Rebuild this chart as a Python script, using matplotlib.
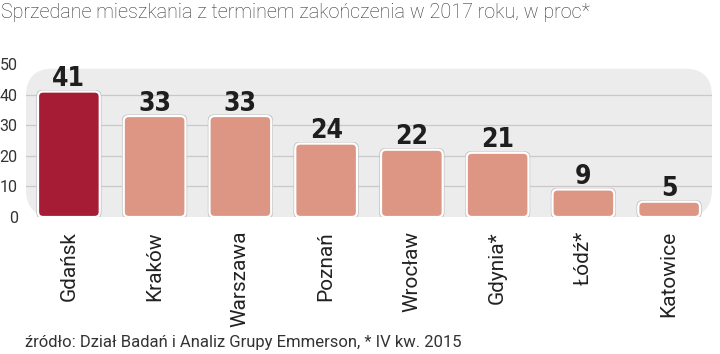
import matplotlib
matplotlib.use("Agg")
import matplotlib.pyplot as plt
from matplotlib.patches import FancyBboxPatch

# Dane
miasta = ["Gdańsk", "Kraków", "Warszawa", "Poznań", "Wrocław", "Gdynia*", "Łódź*", "Katowice"]
wartosci = [41, 33, 33, 24, 22, 21, 9, 5]
yticks = [0, 10, 20, 30, 40, 50]

kolor_wyrozniony = "#A51C34"
kolor_bazowy = "#DC9683"

plt.rcParams['font.family'] = ['Roboto', 'DejaVu Sans']

fig = plt.figure(figsize=(7.2, 3.54), dpi=100)
ax = fig.add_axes([26 / 720, 137 / 354, 686 / 720, 153 / 354])
ax.set_xlim(-0.5, len(miasta) - 0.5)
ax.set_ylim(0, 50)

# tlo wykresu
bg = FancyBboxPatch((0.0, 0.0), 1.0, 0.97, boxstyle="round,pad=0,rounding_size=0.04",
                    transform=ax.transAxes, facecolor="#ECECEC", edgecolor="none",
                    mutation_aspect=686 / 153, zorder=0)
ax.add_patch(bg)

for y in yticks[1:-1]:
    ax.axhline(y, color="#C9C9C9", lw=0.9, zorder=1)

szer = 0.72
asp = (50 / 153) / (8 / 686)
for i, (m, v) in enumerate(zip(miasta, wartosci)):
    kolor = kolor_wyrozniony if i == 0 else kolor_bazowy
    # cien
    cien = FancyBboxPatch((i - szer / 2 - 0.02, -0.5), szer + 0.04, v + 1.0,
                          boxstyle="round,pad=0,rounding_size=0.07",
                          mutation_aspect=asp,
                          facecolor="#BDBDBD", edgecolor="none", zorder=2)
    ax.add_patch(cien)
    bar = FancyBboxPatch((i - szer / 2, 0), szer, v,
                         boxstyle="round,pad=0,rounding_size=0.06",
                         mutation_aspect=asp,
                         facecolor=kolor, edgecolor="white", lw=1.6, zorder=3)
    ax.add_patch(bar)
    ax.text(i, v + 1.8, str(v), ha="center", va="baseline", fontsize=19,
            fontweight="bold", color="#1E1E1E", zorder=4,
            family=["DejaVu Sans"], fontstretch="condensed")

ax.set_yticks(yticks)
ax.set_yticklabels([str(t) for t in yticks], fontsize=11.5, color="#333333")
ax.tick_params(axis="y", length=0, pad=6)
ax.set_xticks(range(len(miasta)))
ax.set_xticklabels(miasta, rotation=90, fontsize=15, color="#222222", va="top")
ax.tick_params(axis="x", length=0, pad=10)
for s in ax.spines.values():
    s.set_visible(False)

fig.text(0.002, 0.965, "Sprzedane mieszkania z terminem zakończenia w 2017 roku, w proc*",
         fontsize=14.2, color="#333333", ha="left", va="center", fontweight="light")
fig.text(25 / 720, 12 / 354, "źródło: Dział Badań i Analiz Grupy Emmerson, * IV kw. 2015",
         fontsize=12, color="#333333", ha="left", va="center")

fig.savefig("out.png", dpi=100)
